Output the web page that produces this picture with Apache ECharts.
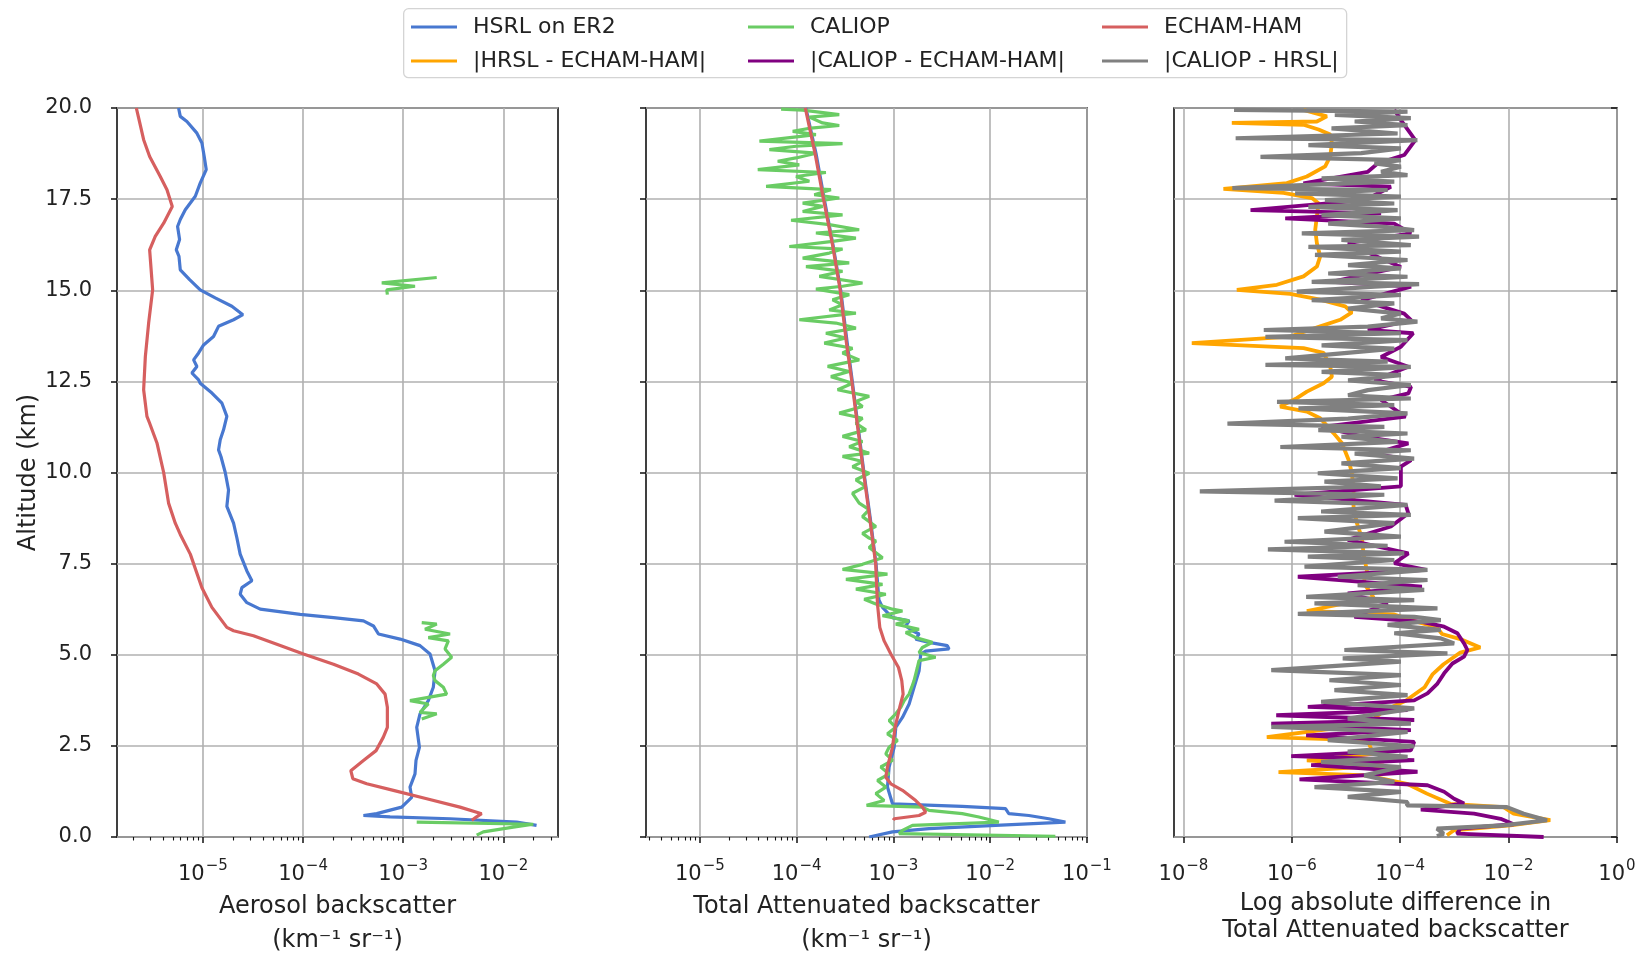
<!DOCTYPE html>
<html>
<head>
<meta charset="utf-8">
<title>Backscatter profiles</title>
<script src="https://cdn.jsdelivr.net/npm/echarts@6/dist/echarts.min.js"></script>
<style>
html, body { margin: 0; padding: 0; background: #fff; }
#chart { width: 1651px; height: 958px; }
</style>
</head>
<body>
<div id="chart"></div>
<script>
// all values are [altitude km, log10(backscatter)]

// left panel: aerosol backscatter
var aeroHsrl = [[20.00,-5.243],[19.77,-5.226],[19.63,-5.160],[19.31,-5.060],[19.04,-5.010],[18.67,-4.987],[18.31,-4.967],[17.94,-5.027],[17.58,-5.076],[17.21,-5.176],[16.94,-5.226],[16.75,-5.253],[16.39,-5.233],[16.11,-5.266],[15.93,-5.239],[15.56,-5.226],[15.29,-5.133],[15.01,-5.027],[14.79,-4.877],[14.56,-4.711],[14.33,-4.601],[14.19,-4.694],[14.01,-4.844],[13.73,-4.894],[13.50,-4.993],[13.28,-5.043],[13.09,-5.093],[12.91,-5.060],[12.73,-5.110],[12.54,-5.043],[12.45,-5.027],[12.18,-4.910],[11.90,-4.810],[11.54,-4.761],[11.17,-4.794],[10.90,-4.827],[10.62,-4.844],[10.44,-4.820],[10.00,-4.777],[9.52,-4.744],[9.07,-4.761],[8.61,-4.694],[8.21,-4.661],[7.76,-4.628],[7.30,-4.561],[7.03,-4.511],[6.84,-4.611],[6.66,-4.628],[6.43,-4.561],[6.25,-4.428],[6.11,-4.029],[6.02,-3.696],[5.93,-3.397],[5.79,-3.297],[5.57,-3.247],[5.43,-3.031],[5.25,-2.832],[5.02,-2.732],[4.56,-2.682],[4.11,-2.699],[3.74,-2.749],[3.38,-2.832],[3.01,-2.865],[2.46,-2.838],[2.10,-2.872],[1.73,-2.882],[1.37,-2.932],[1.09,-2.915],[0.82,-3.015],[0.64,-3.264],[0.59,-3.397],[0.55,-3.131],[0.50,-2.532],[0.41,-1.867],[0.32,-1.668]];
var aeroCaliopA = [[15.35,-2.665],[15.20,-3.214],[15.11,-2.882],[15.01,-3.164],[14.88,-3.158]];
var aeroCaliopB = [[5.88,-2.815],[5.84,-2.665],[5.70,-2.782],[5.57,-2.532],[5.47,-2.749],[5.38,-2.549],[5.16,-2.582],[4.93,-2.516],[4.74,-2.599],[4.56,-2.682],[4.43,-2.699],[4.29,-2.682],[4.11,-2.599],[3.92,-2.566],[3.74,-2.932],[3.65,-2.749],[3.42,-2.832],[3.38,-2.665],[3.24,-2.815]];
var aeroCaliopC = [[0.41,-2.865],[0.35,-1.701],[0.27,-1.901],[0.14,-2.200],[0.05,-2.266]];
var aeroEcham = [[20.00,-5.665],[19.73,-5.642],[19.13,-5.592],[18.67,-5.532],[18.12,-5.426],[17.76,-5.359],[17.30,-5.306],[16.84,-5.392],[16.48,-5.476],[16.11,-5.532],[15.01,-5.502],[14.10,-5.542],[13.18,-5.575],[12.27,-5.592],[11.54,-5.559],[11.35,-5.532],[10.81,-5.459],[10.00,-5.392],[9.16,-5.343],[8.61,-5.276],[8.30,-5.226],[7.76,-5.126],[6.84,-5.010],[6.30,-4.910],[5.75,-4.761],[5.66,-4.694],[5.52,-4.495],[5.29,-4.262],[5.02,-3.996],[4.74,-3.696],[4.47,-3.447],[4.20,-3.264],[3.92,-3.181],[3.56,-3.158],[3.01,-3.158],[2.74,-3.198],[2.37,-3.271],[2.10,-3.397],[1.82,-3.523],[1.60,-3.503],[1.46,-3.364],[1.28,-3.098],[1.05,-2.765],[0.82,-2.433],[0.64,-2.217],[0.55,-2.267],[0.46,-2.316]];

// middle panel: total attenuated backscatter
var tabHsrl = [[20.0,-3.905],[18.75,-3.80],[17.5,-3.715],[16.25,-3.625],[15.0,-3.545],[13.6,-3.48],[12.5,-3.425],[11.25,-3.365],[10.0,-3.305],[8.75,-3.24],[7.5,-3.18],[6.5,-3.15],[6.30,-3.113],[6.11,-3.045],[6.02,-3.010],[5.93,-2.838],[5.79,-2.873],[5.66,-2.804],[5.57,-2.735],[5.43,-2.770],[5.34,-2.632],[5.25,-2.443],[5.16,-2.426],[5.10,-2.667],[5.02,-2.718],[4.56,-2.735],[4.11,-2.787],[3.65,-2.838],[3.28,-2.907],[3.01,-2.976],[2.46,-2.993],[1.92,-3.045],[1.37,-3.062],[0.91,-3.010],[0.84,-2.289],[0.78,-1.842],[0.64,-1.808],[0.59,-1.601],[0.50,-1.395],[0.41,-1.223],[0.32,-1.945],[0.23,-2.632],[0.14,-3.010],[0.00,-3.251]];
var tabCaliop = [[19.97,-4.161],[19.94,-3.938],[19.82,-3.560],[19.75,-3.869],[19.59,-3.732],[19.52,-3.560],[19.45,-3.852],[19.36,-4.041],[19.27,-3.801],[19.09,-4.385],[19.02,-3.526],[18.95,-4.007],[18.86,-4.282],[18.76,-3.801],[18.63,-4.007],[18.54,-4.196],[18.44,-3.973],[18.31,-4.402],[18.23,-3.698],[18.12,-4.007],[17.99,-3.869],[17.85,-4.316],[17.76,-3.646],[17.62,-3.818],[17.53,-3.560],[17.39,-3.938],[17.30,-3.732],[17.16,-3.938],[17.07,-3.526],[16.92,-4.058],[16.80,-3.663],[16.66,-3.354],[16.57,-3.801],[16.43,-3.388],[16.34,-3.629],[16.20,-4.076],[16.13,-3.526],[16.02,-3.663],[15.88,-3.938],[15.75,-3.457],[15.65,-3.904],[15.52,-3.526],[15.38,-3.766],[15.20,-3.320],[15.11,-3.526],[15.03,-3.801],[14.88,-3.457],[14.74,-3.629],[14.60,-3.526],[14.46,-3.663],[14.37,-3.388],[14.19,-3.973],[14.10,-3.595],[13.96,-3.388],[13.82,-3.698],[13.69,-3.491],[13.55,-3.715],[13.41,-3.423],[13.28,-3.526],[13.09,-3.354],[12.91,-3.680],[12.77,-3.457],[12.63,-3.646],[12.45,-3.423],[12.27,-3.577],[12.09,-3.251],[11.95,-3.388],[11.81,-3.320],[11.63,-3.560],[11.49,-3.320],[11.35,-3.388],[11.17,-3.285],[10.99,-3.526],[10.85,-3.320],[10.71,-3.457],[10.53,-3.251],[10.44,-3.526],[10.30,-3.320],[10.16,-3.423],[9.98,-3.251],[9.80,-3.388],[9.62,-3.285],[9.43,-3.423],[9.16,-3.354],[8.98,-3.251],[8.79,-3.320],[8.52,-3.182],[8.33,-3.320],[8.20,-3.251],[8.12,-3.182],[7.94,-3.251],[7.66,-3.113],[7.48,-3.320],[7.34,-3.526],[7.21,-3.062],[7.07,-3.491],[6.93,-3.113],[6.80,-3.388],[6.66,-3.079],[6.52,-3.302],[6.39,-3.182],[6.25,-3.010],[6.20,-2.907],[6.07,-3.113],[5.93,-2.839],[5.84,-2.976],[5.70,-2.736],[5.61,-2.873],[5.47,-2.770],[5.34,-2.598],[5.20,-2.701],[5.06,-2.736],[4.93,-2.564],[4.84,-2.736],[4.65,-2.753],[4.47,-2.770],[4.29,-2.787],[4.11,-2.811],[3.92,-2.839],[3.74,-2.890],[3.56,-2.924],[3.38,-2.976],[3.19,-3.045],[3.01,-2.976],[2.83,-3.062],[2.65,-2.959],[2.46,-3.045],[2.28,-3.079],[2.10,-3.010],[1.92,-3.131],[1.73,-3.045],[1.55,-3.165],[1.37,-3.079],[1.19,-3.182],[1.00,-3.096],[0.87,-3.278],[0.82,-2.701],[0.73,-2.632],[0.64,-2.289],[0.55,-2.117],[0.41,-1.911],[0.32,-2.804],[0.18,-2.907],[0.09,-2.942],[0.02,-1.327]];
var tabEcham = [[20.0,-3.911],[18.75,-3.81],[17.5,-3.723],[16.25,-3.63],[15.0,-3.55],[13.6,-3.488],[12.5,-3.43],[11.25,-3.37],[10.0,-3.309],[8.75,-3.245],[7.5,-3.184],[6.39,-3.165],[5.75,-3.141],[5.38,-3.096],[5.02,-3.027],[4.65,-2.948],[4.29,-2.914],[3.92,-2.900],[3.56,-2.935],[3.01,-2.983],[2.46,-3.010],[1.92,-3.062],[1.64,-3.079],[1.46,-3.027],[1.28,-2.907],[1.00,-2.770],[0.82,-2.701],[0.68,-2.667],[0.59,-2.735],[0.50,-2.993],[0.46,-3.000]];

// right panel: absolute differences
var diffHsrlEcham = [[19.95,-5.785],[19.77,-5.354],[19.63,-5.538],[19.59,-7.108],[19.54,-5.785],[19.41,-5.508],[19.27,-5.292],[19.04,-5.261],[18.67,-5.292],[18.40,-5.385],[18.12,-5.723],[17.94,-6.092],[17.78,-7.262],[17.67,-6.154],[17.53,-5.631],[17.39,-5.508],[17.03,-5.538],[16.66,-5.569],[16.29,-5.538],[15.93,-5.477],[15.65,-5.538],[15.38,-5.785],[15.15,-6.277],[15.01,-7.015],[14.90,-6.031],[14.74,-5.477],[14.56,-5.015],[14.39,-4.892],[14.19,-5.108],[14.01,-5.477],[13.73,-6.031],[13.55,-7.846],[13.41,-5.785],[13.28,-5.415],[12.91,-5.292],[12.63,-5.261],[12.45,-5.415],[12.22,-5.723],[12.04,-5.908],[11.81,-6.215],[11.67,-5.723],[11.49,-5.477],[11.08,-5.231],[10.81,-5.077],[10.35,-4.954],[9.98,-4.892],[9.52,-4.862],[9.07,-4.862],[8.61,-4.800],[8.21,-4.708],[7.76,-4.677],[7.30,-4.615],[6.98,-4.677],[6.57,-4.492],[6.20,-5.723],[6.11,-4.123],[5.93,-3.754],[5.75,-3.323],[5.57,-3.231],[5.43,-2.892],[5.20,-2.523],[5.06,-2.892],[4.93,-3.015],[4.74,-3.200],[4.47,-3.400],[4.11,-3.550],[3.74,-3.900],[3.47,-4.300],[3.10,-4.600],[2.74,-6.462],[2.65,-4.600],[2.28,-4.500],[2.10,-5.723],[1.96,-4.300],[1.78,-6.246],[1.69,-4.615],[1.46,-3.877],[1.19,-3.508],[0.91,-3.077],[0.82,-2.092],[0.64,-1.908],[0.46,-1.231],[0.32,-1.969],[0.18,-3.015],[0.05,-3.138]];
var diffCaliopEcham = [[19.95,-4.110],[19.67,-3.988],[19.12,-3.722],[18.71,-3.927],[18.48,-4.415],[18.25,-4.598],[17.93,-5.787],[17.84,-4.171],[17.47,-4.659],[17.20,-6.762],[17.11,-4.354],[16.97,-6.122],[16.83,-4.110],[16.56,-3.800],[16.29,-4.963],[15.87,-4.354],[15.64,-3.988],[15.23,-5.268],[15.10,-3.800],[14.73,-4.720],[14.36,-3.927],[14.18,-3.800],[13.91,-4.598],[13.82,-3.760],[13.45,-3.988],[13.17,-4.354],[12.90,-3.850],[12.53,-4.476],[12.35,-3.800],[12.17,-3.850],[11.99,-4.354],[11.53,-3.900],[11.25,-5.451],[10.98,-4.659],[10.80,-3.850],[10.52,-4.476],[10.34,-3.800],[10.16,-3.988],[10.07,-3.988],[9.62,-3.988],[9.39,-5.951],[9.11,-3.900],[8.88,-3.850],[8.52,-4.172],[8.15,-4.969],[7.78,-3.850],[7.51,-4.110],[7.33,-3.520],[7.14,-5.890],[6.87,-3.600],[6.68,-4.969],[6.41,-4.233],[6.04,-4.847],[5.91,-3.620],[5.77,-3.190],[5.59,-2.945],[5.31,-2.822],[5.13,-2.761],[4.95,-2.822],[4.76,-3.037],[4.49,-3.190],[4.21,-3.313],[3.94,-3.497],[3.75,-3.742],[3.57,-5.706],[3.48,-3.865],[3.34,-6.288],[3.21,-3.742],[3.11,-6.380],[2.93,-3.804],[2.79,-5.736],[2.61,-3.742],[2.38,-3.804],[2.22,-6.012],[2.11,-3.742],[1.97,-5.644],[1.79,-3.681],[1.58,-5.859],[1.42,-3.497],[1.24,-3.190],[1.05,-3.006],[0.92,-2.822],[0.75,-3.620],[0.64,-2.638],[0.50,-2.147],[0.35,-1.908],[0.23,-2.892],[0.09,-2.954],[0.00,-1.354]];
var diffCaliopHsrl = [[19.95,-7.067],[19.90,-3.866],[19.81,-5.207],[19.72,-3.805],[19.63,-4.841],[19.53,-3.866],[19.44,-5.268],[19.30,-4.049],[19.17,-7.037],[19.12,-3.683],[18.98,-5.695],[18.89,-3.988],[18.76,-4.720],[18.66,-6.579],[18.57,-3.988],[18.48,-4.476],[18.39,-3.988],[18.25,-4.354],[18.16,-3.866],[18.07,-5.451],[17.98,-4.110],[17.89,-5.695],[17.80,-7.098],[17.75,-4.232],[17.66,-5.939],[17.57,-3.988],[17.47,-5.390],[17.38,-4.110],[17.29,-5.695],[17.20,-4.049],[17.06,-5.451],[16.97,-3.988],[16.83,-5.329],[16.74,-4.293],[16.65,-3.744],[16.56,-5.817],[16.47,-3.652],[16.38,-5.085],[16.24,-3.805],[16.19,-5.695],[16.06,-3.988],[15.97,-5.573],[15.83,-3.866],[15.69,-4.963],[15.60,-3.988],[15.46,-5.329],[15.37,-3.866],[15.23,-5.634],[15.17,-3.652],[15.10,-4.476],[14.96,-5.909],[14.87,-3.988],[14.73,-5.634],[14.64,-4.110],[14.50,-4.963],[14.36,-3.988],[14.23,-4.354],[14.14,-3.683],[14.00,-4.598],[13.91,-6.518],[13.82,-3.988],[13.72,-6.488],[13.63,-3.866],[13.49,-5.451],[13.40,-4.110],[13.27,-5.085],[13.13,-6.122],[13.04,-4.232],[12.95,-6.488],[12.90,-3.805],[12.76,-5.451],[12.67,-3.988],[12.53,-4.963],[12.40,-3.805],[12.26,-4.598],[12.12,-4.963],[12.03,-3.805],[11.94,-6.274],[11.85,-4.110],[11.76,-5.878],[11.62,-3.866],[11.48,-4.963],[11.34,-7.189],[11.25,-4.293],[11.16,-5.512],[11.07,-3.866],[10.98,-5.085],[10.84,-4.049],[10.70,-6.213],[10.61,-3.805],[10.52,-4.841],[10.38,-3.744],[10.25,-5.085],[10.12,-3.988],[9.98,-5.521],[9.84,-4.049],[9.75,-5.399],[9.62,-4.356],[9.48,-7.699],[9.39,-4.294],[9.23,-6.319],[9.11,-3.865],[8.93,-5.460],[8.84,-3.804],[8.75,-5.890],[8.61,-4.110],[8.38,-5.399],[8.24,-3.988],[8.10,-6.135],[7.99,-4.233],[7.89,-6.442],[7.78,-3.926],[7.69,-5.706],[7.60,-4.110],[7.42,-5.767],[7.33,-3.497],[7.14,-5.153],[7.05,-3.497],[6.91,-4.785],[6.78,-3.558],[6.59,-5.736],[6.50,-3.742],[6.41,-5.583],[6.27,-3.313],[6.12,-5.890],[6.04,-3.742],[5.95,-3.252],[5.82,-4.233],[5.68,-3.252],[5.59,-4.110],[5.45,-3.252],[5.31,-3.006],[5.13,-5.031],[5.04,-3.129],[4.90,-5.061],[4.81,-3.988],[4.58,-6.380],[4.44,-3.988],[4.30,-5.307],[4.17,-3.988],[4.03,-5.215],[3.89,-3.865],[3.71,-5.460],[3.53,-3.742],[3.25,-4.969],[3.11,-3.804],[3.02,-6.380],[2.88,-3.865],[2.66,-5.337],[2.49,-3.742],[2.34,-4.969],[2.20,-3.865],[2.06,-5.460],[1.92,-3.988],[1.69,-4.663],[1.51,-4.110],[1.37,-5.583],[1.24,-3.988],[1.10,-4.969],[0.96,-3.865],[0.87,-3.877],[0.82,-2.031],[0.64,-1.723],[0.46,-1.292],[0.32,-2.092],[0.23,-3.323],[0.09,-3.200],[0.02,-3.323]];

// axis extents (log10) and labelled decades
var xRanges = [[-5.858, -1.454], [-5.557, -1], [-8.175, 0]];
var xDecades = [[-5, -4, -3, -2], [-5, -4, -3, -2, -1], [-8, -6, -4, -2, 0]];

var FONT = 'DejaVu Sans';
var INK = '#222';
var C = {
	hsrl: '#4878d0', caliop: '#6acc64', echam: '#d65f5f',
	d1: '#ffa500', d2: '#800080', d3: '#808080'
};

// 10^n as "10" with a raised exponent
function powLabel(v) {
	var n = Math.round(v);
	return '{b|10}{s|' + (n < 0 ? '\u2212' + (-n) : n) + '}';
}
var powRich = {
	b: { fontSize: 21, fontFamily: FONT, color: INK, lineHeight: 26, verticalAlign: 'bottom' },
	s: { fontSize: 15, fontFamily: FONT, color: INK, lineHeight: 15, verticalAlign: 'top', padding: [0, 0, 0, 1] }
};

// log minor ticks (2..9 of each decade) inside the extent
function minorTicks(r) {
	var out = [];
	for (var n = Math.floor(r[0]); n < r[1]; n++) {
		for (var k = 2; k < 10; k++) {
			var v = n + Math.log10(k);
			if (v > r[0] && v < r[1]) out.push(v);
		}
	}
	return out;
}

var grids = [117, 646, 1174].map(function(left, i) {
	return {
		left: left, top: 108, width: i == 2 ? 443 : 441, height: 729,
		outerBoundsMode: 'none', containLabel: false,
		show: true, borderColor: '#111', borderWidth: 1.6, backgroundColor: 'transparent'
	};
});

var xNames = [
	'Aerosol backscatter\n(km\u207b\u00b9 sr\u207b\u00b9)',
	'Total Attenuated backscatter\n(km\u207b\u00b9 sr\u207b\u00b9)',
	'Log absolute difference in\nTotal Attenuated backscatter'
];

var xAxes = xRanges.map(function(r, i) {
	return {
		type: 'value', gridIndex: i, position: 'bottom', min: r[0], max: r[1],
		axisLine: { show: false },
		axisTick: { show: true, customValues: xDecades[i], length: 6, lineStyle: { color: '#111', width: 1.5 } },
		axisLabel: { show: true, customValues: xDecades[i], formatter: powLabel, margin: 22, rich: powRich },
		splitLine: { show: true, lineStyle: { color: '#b0b0b0', width: 1.6 } },
		name: xNames[i], nameLocation: 'middle', nameGap: i == 2 ? 50 : 43,
		nameTextStyle: { fontSize: 24, fontFamily: FONT, color: INK, lineHeight: i == 2 ? 27 : 34 }
	};
});
// minor ticks for the two left panels
[0, 1].forEach(function(i) {
	xAxes.push({
		type: 'value', gridIndex: i, position: 'bottom', min: xRanges[i][0], max: xRanges[i][1],
		axisLine: { show: false },
		axisTick: { show: true, customValues: minorTicks(xRanges[i]), length: 3.5, lineStyle: { color: '#111', width: 1.1 } },
		axisLabel: { show: false },
		splitLine: { show: false }
	});
});

var yAxes = [0, 1, 2].map(function(i) {
	return {
		type: 'value', gridIndex: i, min: 0, max: 20, interval: 2.5,
		axisLine: { show: false },
		axisTick: { show: true, length: 6, lineStyle: { color: '#111', width: 1.5 } },
		axisLabel: { show: i == 0, margin: 25, fontSize: 21, fontFamily: FONT, color: INK,
			formatter: function(v) { return v.toFixed(1); } },
		splitLine: { show: true, lineStyle: { color: '#b0b0b0', width: 1.6 } },
		name: i == 0 ? 'Altitude (km)' : '', nameLocation: 'middle', nameGap: 76,
		nameTextStyle: { fontSize: 24, fontFamily: FONT, color: INK }
	};
});

function profile(name, pts, color, panel, width) {
	return {
		type: 'line', name: name, xAxisIndex: panel, yAxisIndex: panel,
		data: pts.map(function(p) { return [p[1], p[0]]; }),
		showSymbol: false, symbol: 'none', clip: true,
		lineStyle: { color: color, width: width || 3.2 },
		itemStyle: { color: color }
	};
}

var series = [
	profile('HSRL on ER2', aeroHsrl, C.hsrl, 0),
	profile('CALIOP', aeroCaliopA, C.caliop, 0),
	profile('CALIOP', aeroCaliopB, C.caliop, 0),
	profile('CALIOP', aeroCaliopC, C.caliop, 0),
	profile('ECHAM-HAM', aeroEcham, C.echam, 0),
	profile('HSRL on ER2', tabHsrl, C.hsrl, 1),
	profile('CALIOP', tabCaliop, C.caliop, 1),
	profile('ECHAM-HAM', tabEcham, C.echam, 1),
	profile('|HRSL - ECHAM-HAM|', diffHsrlEcham, C.d1, 2, 3.8),
	profile('|CALIOP - ECHAM-HAM|', diffCaliopEcham, C.d2, 2, 3.8),
	profile('|CALIOP - HRSL|', diffCaliopHsrl, C.d3, 2, 4.2)
];

var legendSpots = [
	['HSRL on ER2', 411, 16], ['CALIOP', 748, 16], ['ECHAM-HAM', 1102, 16],
	['|HRSL - ECHAM-HAM|', 411, 50], ['|CALIOP - ECHAM-HAM|', 748, 50], ['|CALIOP - HRSL|', 1102, 50]
];

var option = {
	animation: false,
	backgroundColor: '#fff',
	textStyle: { fontFamily: FONT },
	graphic: [{
		type: 'rect', left: 403, top: 8, z: 0,
		shape: { width: 943, height: 69, r: 5 },
		style: { fill: '#fff', stroke: '#d4d4d4', lineWidth: 1.3 }
	}],
	legend: legendSpots.map(function(s) {
		return {
			data: [s[0]], left: s[1], top: s[2], padding: 0, z: 5,
			icon: 'rect', itemWidth: 46, itemHeight: 3, selectedMode: false,
			textStyle: { fontSize: 22, fontFamily: FONT, color: INK, padding: [0, 0, 0, 11] }
		};
	}),
	grid: grids,
	xAxis: xAxes,
	yAxis: yAxes,
	series: series
};

var chart = echarts.init(document.getElementById('chart'));
chart.setOption(option);
</script>
</body>
</html>
